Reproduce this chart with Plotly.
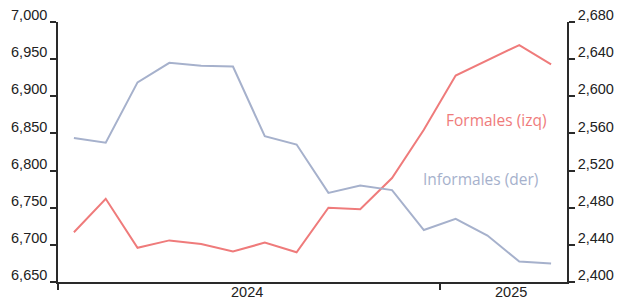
import plotly.graph_objects as go

months = ["2024-01", "2024-02", "2024-03", "2024-04", "2024-05", "2024-06",
          "2024-07", "2024-08", "2024-09", "2024-10", "2024-11", "2024-12",
          "2025-01", "2025-02", "2025-03", "2025-04"]
formales = [6717, 6762, 6696, 6706, 6701, 6691, 6703, 6690,
            6750, 6748, 6790, 6855, 6928, 6949, 6969, 6943]
informales = [2555, 2550, 2615, 2636, 2633, 2632, 2557, 2548,
              2496, 2504, 2499, 2456, 2468, 2450, 2422, 2420]
year_labels = ["2024", "2025"]

RED = "#EF7B7B"
BLUE = "#A6B1CC"
AX = "#2a2a2a"

x = list(range(len(months)))

fig = go.Figure()
fig.add_trace(go.Scatter(x=x, y=formales, mode="lines", name="Formales (izq)",
                         line=dict(color=RED, width=2), yaxis="y"))
fig.add_trace(go.Scatter(x=x, y=informales, mode="lines", name="Informales (der)",
                         line=dict(color=BLUE, width=2), yaxis="y2"))

tickfont = dict(family="Liberation Sans, Arial, sans-serif", size=14.5, color="#222")

fig.update_layout(
    width=619, height=294,
    margin=dict(l=50, r=60, t=14, b=20, autoexpand=False),
    paper_bgcolor="white", plot_bgcolor="white",
    showlegend=False,
    xaxis=dict(range=[-0.5, 15.5], tickvals=[-0.5, 11.5], ticktext=["", ""],
               ticks="outside", ticklen=6, tickcolor=AX, tickwidth=1.5,
               showline=True, linecolor=AX, linewidth=1.5, showgrid=False,
               zeroline=False, fixedrange=True, automargin=False),
    yaxis=dict(range=[6650, 7000], dtick=50, tickformat=",", ticks="outside",
               ticklen=6, tickcolor=AX, tickwidth=1.5, showline=True,
               linecolor=AX, linewidth=1.5, showgrid=False, zeroline=False,
               tickfont=tickfont, ticklabelshift=-7, automargin=False,
               ticklabeloverflow="allow"),
    yaxis2=dict(range=[2400, 2680], dtick=40, tickformat=",", overlaying="y",
                side="right", ticks="outside", ticklen=6, tickcolor=AX,
                tickwidth=1.5, showline=True, linecolor=AX, linewidth=1.5,
                showgrid=False, zeroline=False, tickfont=tickfont,
                ticklabelshift=-7, automargin=False, ticklabeloverflow="allow"),
)

for xv, lab in zip([5.45, 13.75], year_labels):
    fig.add_annotation(x=xv, y=0, xref="x", yref="paper", yshift=-10,
                       text=lab, showarrow=False, yanchor="middle",
                       font=dict(family="Liberation Sans, Arial, sans-serif",
                                 size=14.5, color="#222"))

fig.add_annotation(x=13.26, y=6868, xref="x", yref="y", text="Formales (izq)",
                   showarrow=False, font=dict(family="Open Sans", size=15.5, color=RED))
fig.add_annotation(x=12.79, y=2511, xref="x", yref="y2", text="Informales (der)",
                   showarrow=False, font=dict(family="Open Sans", size=15.5, color=BLUE))

fig.write_html("out.html")
